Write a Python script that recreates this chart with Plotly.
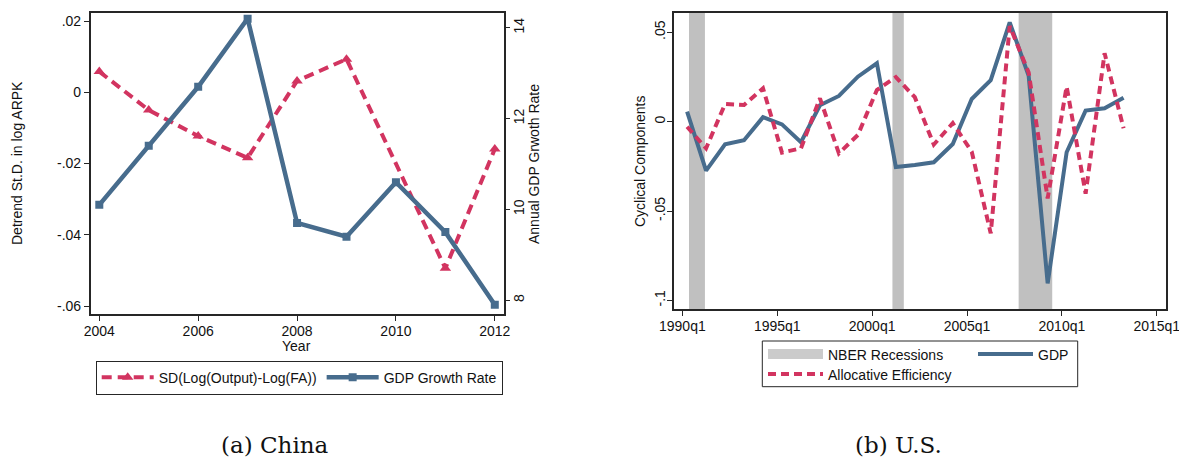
import plotly.graph_objects as go

# ---------------- Data: China ----------------
china_years = [2004, 2005, 2006, 2007, 2008, 2009, 2010, 2011, 2012]
china_sd = [0.0058, -0.0050, -0.0123, -0.0184, 0.0032, 0.0093, None, -0.0494, -0.0159]
china_gdp = [10.1, 11.4, 12.7, 14.2, 9.7, 9.4, 10.6, 9.5, 7.9]
china_xticks = [2004, 2006, 2008, 2010, 2012]
china_yticks = [0.02, 0, -0.02, -0.04, -0.06]
china_ytext = [".02", "0", "-.02", "-.04", "-.06"]
china_y2ticks = [8, 10, 12, 14]

# ---------------- Data: U.S. ----------------
us_years = [1990, 1991, 1992, 1993, 1994, 1995, 1996, 1997, 1998, 1999, 2000, 2001,
            2002, 2003, 2004, 2005, 2006, 2007, 2008, 2009, 2010, 2011, 2012, 2013]
us_quarter = 2  # annual observations dated in the 2nd quarter
us_gdp = [0.0056, -0.0274, -0.0127, -0.0104, 0.0025, -0.0015, -0.0115, 0.0092,
          0.0144, 0.0252, 0.0327, -0.0254, -0.0242, -0.0227, -0.0125, 0.0127,
          0.0233, 0.0556, 0.0256, -0.0905, -0.0171, 0.0062, 0.0075, 0.0134]
us_ae = [-0.0028, -0.0149, 0.0099, 0.0093, 0.0187, -0.0173, -0.0149, 0.0131,
         -0.0177, -0.0074, 0.0177, 0.0250, 0.0137, -0.0128, -0.0008, -0.0168,
         -0.0625, 0.0535, 0.0275, -0.0429, 0.0197, -0.0403, 0.0383, -0.0037]
us_xticks = [1990, 1995, 2000, 2005, 2010, 2015]
us_xtext = ["1990q1", "1995q1", "2000q1", "2005q1", "2010q1", "2015q1"]
us_yticks = [0.05, 0, -0.05, -0.1]
us_ytext = [".05", "0", "-.05", "-.1"]
rec_start = [1990.35, 2001.07, 2007.72]
rec_end = [1991.19, 2001.67, 2009.49]

us_x = [y + (us_quarter - 1) / 4 for y in us_years]

# ---------------- Styles ----------------
BLUE = "#476C8D"
RED = "#D23460"
GRAY = "#C0C0C0"
FRAME = "#262626"
TXT = "#111111"
FONT = "Liberation Sans"
W, H = 1179, 460

fig = go.Figure()

fig.add_trace(go.Scatter(
    x=china_years, y=china_sd, name="SD(Log(Output)-Log(FA))",
    mode="lines+markers", xaxis="x", yaxis="y", connectgaps=True,
    line=dict(color=RED, width=4, dash="10px,6px"),
    marker=dict(symbol="triangle-up", size=10, color=RED),
    legend="legend"))
fig.add_trace(go.Scatter(
    x=china_years, y=china_gdp, name="GDP Growth Rate",
    mode="lines+markers", xaxis="x", yaxis="y2",
    line=dict(color=BLUE, width=4.5),
    marker=dict(symbol="square", size=8, color=BLUE),
    legend="legend"))

# legend key for the recession shading
fig.add_trace(go.Scatter(
    x=[None], y=[None], name="NBER Recessions", mode="lines",
    xaxis="x2", yaxis="y3", line=dict(color="#CBCBCB", width=15),
    legend="legend2"))
fig.add_trace(go.Scatter(
    x=us_x, y=us_gdp, name="GDP", mode="lines", xaxis="x2", yaxis="y3",
    line=dict(color=BLUE, width=4), legend="legend3"))
fig.add_trace(go.Scatter(
    x=us_x, y=us_ae, name="Allocative Efficiency", mode="lines",
    xaxis="x2", yaxis="y3",
    line=dict(color=RED, width=4, dash="8px,5px"), legend="legend4"))

shapes = []
for s, e in zip(rec_start, rec_end):
    shapes.append(dict(type="rect", xref="x2", yref="y3 domain", x0=s, x1=e,
                       y0=0, y1=1, fillcolor=GRAY, line=dict(width=0),
                       layer="below"))
# right legend frame
shapes.append(dict(type="rect", xref="paper", yref="paper",
                   x0=762.3 / W, x1=1077.7 / W, y0=1 - 386.7 / H, y1=1 - 341 / H,
                   line=dict(color=FRAME, width=1), fillcolor="rgba(0,0,0,0)"))

axis_common = dict(showgrid=False, zeroline=False, showline=True,
                   linecolor=FRAME, linewidth=1.5, ticks="outside",
                   ticklen=5, tickwidth=1, tickcolor=FRAME, automargin=False,
                   ticklabeloverflow="allow",
                   tickfont=dict(family=FONT, size=14, color=TXT))


def ann(text, x, y, angle=0, size=14, family=FONT):
    return dict(text=text, x=x / W, y=1 - y / H, xref="paper", yref="paper",
                showarrow=False, xanchor="center", yanchor="middle",
                textangle=angle, font=dict(family=family, size=size, color=TXT))


def leg(x, y, **kw):
    d = dict(orientation="v", x=x / W, y=1 - y / H, xanchor="left",
             yanchor="top", borderwidth=0, bgcolor="rgba(0,0,0,0)",
             itemwidth=55, font=dict(family=FONT, size=14, color=TXT))
    d.update(kw)
    return d


fig.update_layout(
    width=W, height=H, margin=dict(l=0, r=0, t=0, b=0, autoexpand=False),
    paper_bgcolor="white", plot_bgcolor="white",
    font=dict(family=FONT, size=14, color=TXT),
    shapes=shapes,
    xaxis=dict(domain=[90.7 / W, 503.7 / W], range=[2003.826, 2012.18],
               anchor="y", tickvals=china_xticks, mirror=True,
               ticklabelstandoff=-2, **axis_common),
    yaxis=dict(domain=[1 - 314.3 / H, 1 - 12.7 / H], range=[-0.06232, 0.02234],
               anchor="x", tickvals=china_yticks, ticktext=china_ytext,
               **axis_common),
    yaxis2=dict(overlaying="y", side="right", anchor="x", range=[7.690, 14.332],
                tickvals=china_y2ticks, tickangle=-90, ticklabelstandoff=-3,
                **axis_common),
    xaxis2=dict(domain=[674 / W, 1165.7 / W], range=[1989.56, 2015.47],
                anchor="y3", tickvals=us_xticks, ticktext=us_xtext, mirror=True,
                ticklabelstandoff=-2, **axis_common),
    yaxis3=dict(domain=[1 - 309 / H, 1 - 12.5 / H], range=[-0.1048, 0.0611],
                anchor="x2", tickvals=us_yticks, ticktext=us_ytext,
                tickangle=-90, mirror=True, ticklabelstandoff=-3, **axis_common),
    legend=dict(orientation="h", x=95.7 / W, y=1 - 360.7 / H,
                xanchor="left", yanchor="top", bordercolor=FRAME,
                borderwidth=1, bgcolor="white", itemwidth=52,
                font=dict(family=FONT, size=14, color=TXT)),
    legend2=leg(763, 338.5),
    legend3=leg(973, 338.5),
    legend4=leg(763, 358.5),
    annotations=[
        ann("Detrend St.D. in log ARPK", 17, 163, angle=-90),
        ann("Annual GDP Grwoth Rate", 534, 164, angle=-90),
        ann("Year", 297, 346),
        ann("Cyclical Components", 640, 161, angle=-90),
        ann("(a) China", 275, 445, size=23, family="DejaVu Serif"),
        ann("(b) U.S.", 898, 445, size=23, family="DejaVu Serif"),
    ],
)

fig.write_html("out.html")
